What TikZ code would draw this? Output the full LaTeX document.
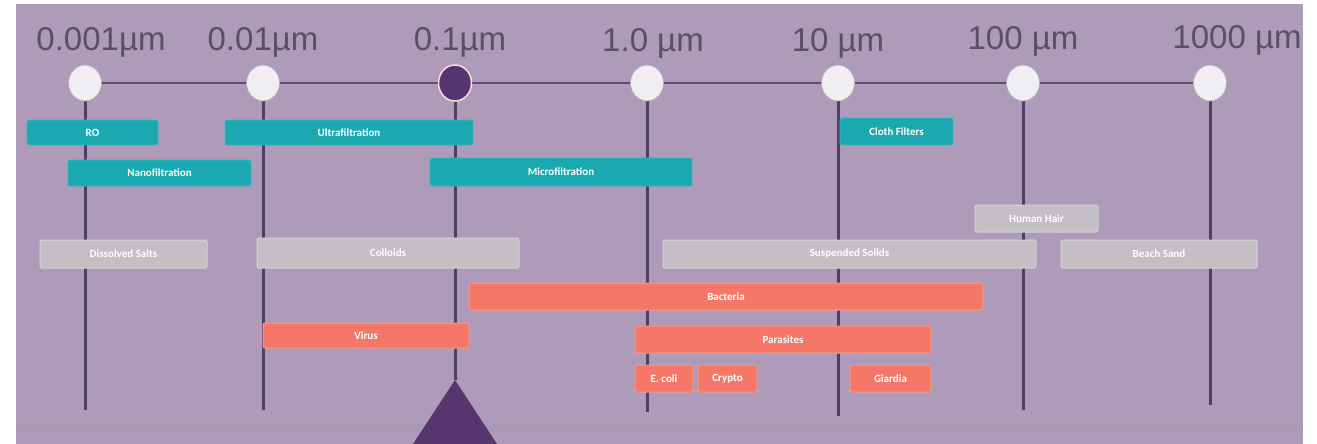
\documentclass[tikz,border=0pt]{standalone}
\usepackage{fontspec}
\setmainfont{Liberation Sans}
\newfontfamily\boxfont{Carlito}
\definecolor{bgpurple}{HTML}{AE9AB9}
\definecolor{axisline}{HTML}{5E4E6E}
\definecolor{vline}{HTML}{4F3F62}
\definecolor{labelgray}{HTML}{5A5064}
\definecolor{tealfill}{HTML}{1AA9B1}
\definecolor{grayfill}{HTML}{C3BFC4}
\definecolor{grayedge}{HTML}{D6D2D8}
\definecolor{redfill}{HTML}{F47768}
\definecolor{rededge}{HTML}{F49A86}
\definecolor{dotfill}{HTML}{F1EEF3}
\definecolor{darkdot}{HTML}{553570}
\definecolor{triang}{HTML}{573670}
\tikzset{
  scalelabel/.style={font=\fontsize{33}{35}\selectfont, text=labelgray, inner sep=0pt},
  bar/.style={rounded corners=2pt, inner sep=0pt, font=\boxfont\bfseries\fontsize{11}{12}\selectfont, text=white},
  tealbar/.style={bar, fill=tealfill, draw=tealfill!85!white, line width=0.8pt},
  graybar/.style={bar, fill=grayfill, draw=grayedge, line width=1pt},
  redbar/.style={bar, fill=redfill, draw=rededge, line width=1pt},
  dot/.style={ellipse, minimum width=33pt, minimum height=36pt, inner sep=0pt, fill=dotfill, draw=gray!60, line width=0.8pt},
  darkdotstyle/.style={ellipse, minimum width=33pt, minimum height=36pt, inner sep=0pt, fill=darkdot, draw=pink!60!white, line width=1.5pt},
  axis/.style={draw=axisline, line width=2.8pt},
  drop/.style={draw=vline, line width=3pt}
}
\usetikzlibrary{shapes.geometric}
\begin{document}
\begin{tikzpicture}[x=1pt,y=-1pt]
\useasboundingbox (0,0) rectangle (1317,444);
\fill[white] (0,0) rectangle (1317,444);
\fill[bgpurple] (16,4) rectangle (1303,444);
\fill[bgpurple!92!gray] (16,425) rectangle (1303,432);

% scale labels
\node[scalelabel] (l1) at (101,42) {0.001µm};
\node[scalelabel] (l2) at (263,42) {0.01µm};
\node[scalelabel] (l3) at (460,42) {0.1µm};
\node[scalelabel] (l4) at (653,43) {1.0 µm};
\node[scalelabel] (l5) at (838,43) {10 µm};
\node[scalelabel] (l6) at (1023,41) {100 µm};
\node[scalelabel] (l7) at (1237,40) {1000 µm};

% coordinates for line ends
\coordinate (e1) at (85,410);
\coordinate (e2) at (263,410);
\coordinate (e3) at (455,380);
\coordinate (e4) at (647,412);
\coordinate (e5) at (838,416);
\coordinate (e6) at (1023,410);
\coordinate (e7) at (1210,405);

\coordinate (p1) at (85,83);
\coordinate (p2) at (263,83);
\coordinate (p3) at (455,83);
\coordinate (p4) at (647,83);
\coordinate (p5) at (838,83);
\coordinate (p6) at (1023,83);
\coordinate (p7) at (1210,83);

\draw[axis] (p1) -- (p7);
\foreach \i in {1,...,7} { \draw[drop] (p\i) -- (e\i); }

% filtration bars
\node[tealbar, minimum width=131pt, minimum height=25pt] (ro) at (92.5,132.5) {RO};
\node[tealbar, minimum width=248pt, minimum height=25pt] (uf) at (349,132.5) {Ultrafiltration};
\node[tealbar, minimum width=183pt, minimum height=26pt] (nf) at (159.5,173) {Nanofiltration};
\node[tealbar, minimum width=262pt, minimum height=28pt] (mf) at (561,172) {Microfiltration};
\node[tealbar, minimum width=113pt, minimum height=27pt] (cf) at (896.5,131.5) {Cloth Filters};

% particle bars
\node[graybar, minimum width=167pt, minimum height=28pt] (ds) at (123.5,254) {Dissolved Salts};
\node[graybar, minimum width=262pt, minimum height=30pt] (co) at (388,253) {Colloids};
\node[graybar, minimum width=373pt, minimum height=28pt] (ss) at (849.5,254) {Suspended Solids};
\node[graybar, minimum width=123pt, minimum height=27pt] (hh) at (1036.5,218.5) {Human Hair};
\node[graybar, minimum width=196pt, minimum height=28pt] (bs) at (1159,254) {Beach Sand};

\node[redbar, minimum width=514pt, minimum height=27pt] (ba) at (726,296.5) {Bacteria};
\node[redbar, minimum width=206pt, minimum height=25pt] (vi) at (366,335.5) {Virus};
\node[redbar, minimum width=296pt, minimum height=27pt] (pa) at (783,339.5) {Parasites};
\node[redbar, minimum width=58pt, minimum height=27pt] (ec) at (664,378.5) {E. coli};
\node[redbar, minimum width=59pt, minimum height=27pt] (cr) at (727.5,378.5) {Crypto};
\node[redbar, minimum width=81pt, minimum height=27pt] (gi) at (890.5,378.5) {Giardia};

% dots
\node[dot] (c1) at (p1) {};
\node[dot] (c2) at (p2) {};
\node[darkdotstyle] (c3) at (p3) {};
\node[dot] (c4) at (p4) {};
\node[dot] (c5) at (p5) {};
\node[dot] (c6) at (p6) {};
\node[dot] (c7) at (p7) {};

% pointer triangle
\coordinate (tl) at (413,444);
\coordinate (tr) at (497,444);
\fill[triang] (e3) -- (tr) -- (tl) -- cycle;
\end{tikzpicture}
\end{document}
